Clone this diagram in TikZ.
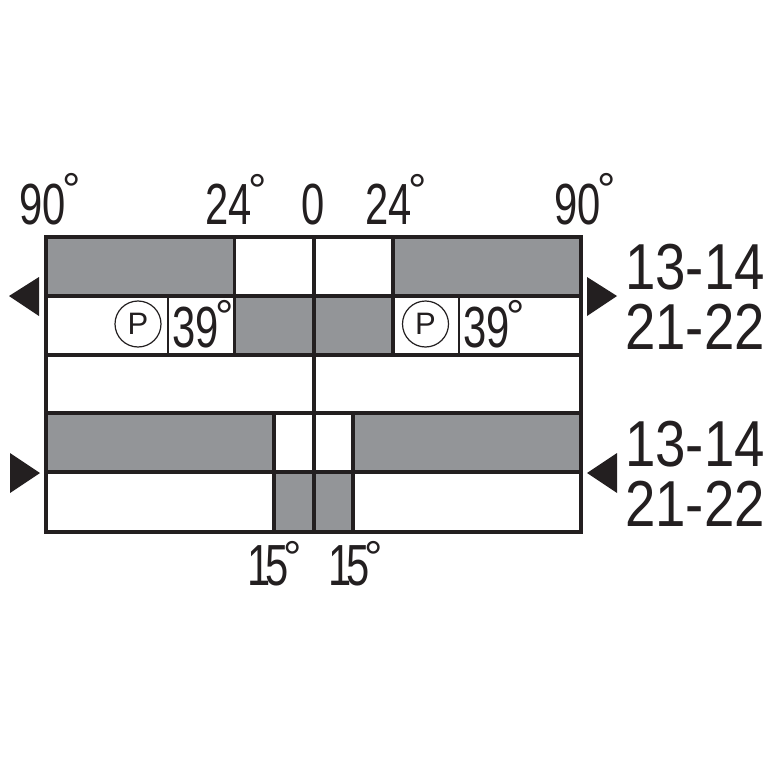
\documentclass[tikz,border=0pt]{standalone}
\usepackage{fontspec}
\newfontfamily\dinface[FakeStretch=0.72]{Liberation Sans}
\newfontfamily\numface[FakeStretch=0.84]{Liberation Sans}
\newfontfamily\ringface{Liberation Sans}
\newcommand{\dgr}[1]{\kern-3.5pt\raisebox{#1}{\ringface\fontsize{46}{46}\selectfont °}}
\definecolor{ink}{HTML}{231F20}
\definecolor{band}{HTML}{939598}
\tikzset{
  x=1pt,y=-1pt,
  angle/.style={inner sep=0pt,anchor=base west,text=ink,font=\dinface\fontsize{58}{58}\selectfont},
  contact/.style={inner sep=0pt,anchor=base west,text=ink,font=\numface\fontsize{65}{65}\selectfont},
  pmark/.style={circle,draw=ink,line width=1.2pt,minimum size=46pt,inner sep=0pt,text=ink,font=\ringface\fontsize{31}{31}\selectfont},
  grid/.style={draw=ink,line width=3.2pt},
  fine/.style={draw=ink,line width=2.2pt},
  pointer/.style={fill=ink,draw=none},
  shade/.style={fill=band,draw=none}
}
\begin{document}
\begin{tikzpicture}
\useasboundingbox (0,0) rectangle (767,767);
\fill[white] (0,0) rectangle (767,767);
% shaded cells
\fill[shade] (46,237) rectangle (234.5,296);
\fill[shade] (393,237) rectangle (581,296);
\fill[shade] (234.5,296) rectangle (393,355);
\fill[shade] (46,413) rectangle (274,472);
\fill[shade] (353,413) rectangle (581,472);
\fill[shade] (274,472) rectangle (353,532);
% grid
\draw[grid] (46,237) rectangle (581,532);
\draw[grid] (46,296) -- (581,296);
\draw[grid] (46,355) -- (581,355);
\draw[grid] (46,413) -- (581,413);
\draw[grid] (46,472) -- (581,472);
\draw[grid] (314,237) -- (314,532);
\draw[grid] (234.5,237) -- (234.5,355);
\draw[grid] (393,237) -- (393,355);
\draw[grid] (274,413) -- (274,532);
\draw[grid] (353,413) -- (353,532);
\draw[fine] (168,296) -- (168,355);
\draw[fine] (459,296) -- (459,355);
% pointers
\fill[pointer] (9,296) -- (39,277) -- (39,316) -- cycle;
\fill[pointer] (617,296) -- (587,277) -- (587,316) -- cycle;
\fill[pointer] (40,473) -- (10,453) -- (10,493) -- cycle;
\fill[pointer] (587,473) -- (617,453) -- (617,493) -- cycle;
% angle labels
\node[angle] (a1) at (19,225) {90\dgr{19pt}};
\node[angle] (a2) at (205,225) {24\dgr{18pt}};
\node[angle] (a3) at (301,225) {0};
\node[angle] (a4) at (365,225) {24\dgr{18pt}};
\node[angle] (a5) at (554,225) {90\dgr{19pt}};
\node[angle] (a6) at (172,347) {39\dgr{15pt}};
\node[angle] (a7) at (463,347) {39\dgr{15pt}};
\node[angle] (a8) at (247,585) {1\kern-5pt 5\kern-2pt\dgr{12pt}};
\node[angle] (a9) at (328.5,585) {1\kern-5pt 5\kern-2pt\dgr{12pt}};
% P marks
\node[pmark] (p1) at (138,324) {P};
\node[pmark] (p2) at (425.5,324) {P};
% contact labels
\node[contact] (c1) at (625,289) {13-14};
\node[contact] (c2) at (625,349) {21-22};
\node[contact] (c3) at (625,466) {13-14};
\node[contact] (c4) at (625,526) {21-22};
\end{tikzpicture}
\end{document}
